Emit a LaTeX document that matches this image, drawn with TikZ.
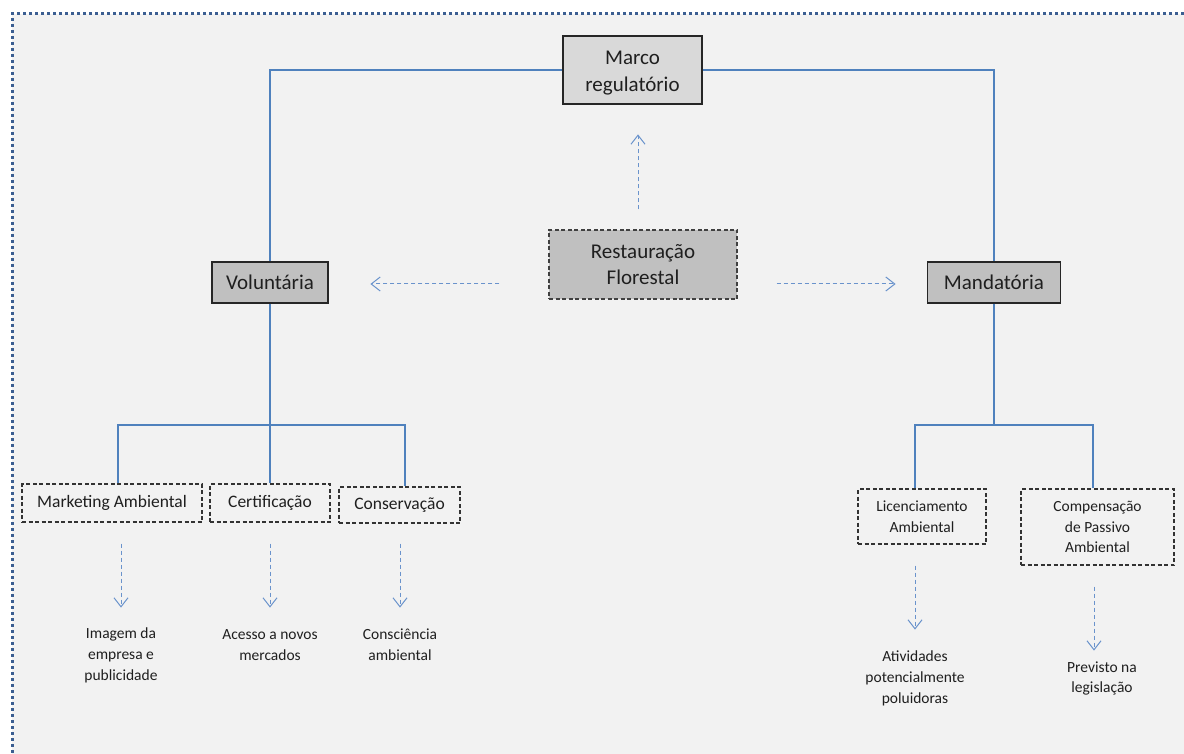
\documentclass[tikz,border=0pt]{standalone}
\usepackage{fontspec}
\setmainfont{Carlito}
\usetikzlibrary{arrows.meta,calc}
\definecolor{bg}{HTML}{F2F2F2}
\definecolor{frameblue}{HTML}{3B5E91}
\definecolor{lineblue}{HTML}{4F81BD}
\definecolor{arrblue}{HTML}{6A93CC}
\definecolor{txt}{HTML}{1F1F1F}
\definecolor{boxlight}{HTML}{D9D9D9}
\definecolor{boxdark}{HTML}{C0C0C0}
\tikzset{
  conn/.style={draw=lineblue,line width=1.2pt},
  darr/.style={draw=arrblue,line width=1pt,dash pattern=on 4pt off 3pt,
    -{Straight Barb[length=9pt,width=14pt,line width=1pt]}},
  topbox/.style={draw=black!85,line width=1.3pt,fill=boxdark,inner sep=0pt,align=center,
    text=txt,font=\fontsize{21}{26.5}\selectfont},
  midbox/.style={draw=black!80,line width=1.2pt,dash pattern=on 4pt off 2.5pt,inner sep=0pt,
    align=center,text=txt,font=\fontsize{17.5}{21}\selectfont},
  smallbox/.style={draw=black!80,line width=1.2pt,dash pattern=on 4pt off 2.5pt,inner sep=0pt,
    align=center,text=txt,font=\fontsize{15.5}{20.7}\selectfont},
  lbl/.style={inner sep=0pt,align=center,text=txt,font=\fontsize{15.5}{20.7}\selectfont}
}
\begin{document}
\begin{tikzpicture}[x=1pt,y=-1pt]
\useasboundingbox (0,0) rectangle (1184,754);
\fill[white] (0,0) rectangle (1184,754);
\fill[bg] (12,14) rectangle (1184,754);
\draw[frameblue,line width=3pt,dash pattern=on 3pt off 3pt] (1184,14) -- (12,14) -- (12,754);

% top-level nodes
\node[topbox,fill=boxlight,minimum width=139pt,minimum height=68pt] (marco) at (632.5,70) {\rule{0pt}{20pt}Marco\\regulatório};
\node[topbox,fill=boxdark,draw=black!75,dash pattern=on 4pt off 2.5pt,line width=1.2pt,
      minimum width=188pt,minimum height=69pt] (rest) at (643,264.5) {Restauração\\Florestal};
\node[topbox,minimum width=116pt,minimum height=41pt] (volu) at (270,282.5) {Voluntária};
\node[topbox,minimum width=133pt,minimum height=41pt] (mand) at (994,282.5) {Mandatória};

% second level
\node[midbox,minimum width=180pt,minimum height=38pt] (mkt) at (112,503) {Marketing Ambiental};
\node[midbox,minimum width=120pt,minimum height=38pt] (cert) at (270,503) {Certificação};
\node[midbox,minimum width=121pt,minimum height=36pt] (cons) at (399.5,505) {Conservação};
\node[smallbox,minimum width=128pt,minimum height=55pt] (lic) at (922,516.5) {Licenciamento\\Ambiental};
\node[smallbox,minimum width=153pt,minimum height=76pt] (comp) at (1097.5,527) {Compensação\\de Passivo\\Ambiental};

% bottom labels
\node[lbl] (im) at (121,655.5) {Imagem da\\empresa e\\publicidade};
\node[lbl] (acc) at (270,645) {Acesso a novos\\mercados};
\node[lbl] (cc) at (400,645) {Consciência\\ambiental};
\node[lbl] (ativ) at (915,678.5) {Atividades\\potencialmente\\poluidoras};
\node[lbl] (prev) at (1102,678.5) {Previsto na\\legislação};

% junction coordinates
\coordinate (jl) at (270,425);
\coordinate (jla) at (118,425);
\coordinate (jlc) at (405,425);
\coordinate (jr) at (994,425);
\coordinate (jra) at (915,425);
\coordinate (jrb) at (1093,425);

% solid connectors
\draw[conn] (marco.west) -| (volu.north);
\draw[conn] (marco.east) -| (mand.north);
\draw[conn] (volu.south) -- (jl) -- (jl |- cert.north);
\draw[conn] (jla |- mkt.north) -- (jla) -- (jlc) -- (jlc |- cons.north);
\draw[conn] (mand.south) -- (jr);
\draw[conn] (jra |- lic.north) -- (jra) -- (jrb) -- (jrb |- comp.north);

% dashed arrows
\draw[darr] ($(rest.north)+(-5,-20)$) -- ($(rest.north)+(-5,-95)$);
\draw[darr] ($(rest.west |- volu)+(-49,1.5)$) -- ($(rest.west |- volu)+(-178,1.5)$);
\draw[darr] ($(rest.east |- volu)+(39,1.5)$) -- ($(rest.east |- volu)+(158,1.5)$);
\draw[darr] ($(mkt.south -| im.north)+(0,21)$) -- ($(mkt.south -| im.north)+(0,85)$);
\draw[darr] ($(cert.south -| acc.north)+(0,21)$) -- ($(cert.south -| acc.north)+(0,85)$);
\draw[darr] ($(cons.south -| cc.north)+(0,20)$) -- ($(cons.south -| cc.north)+(0,84)$);
\draw[darr] ($(lic.south -| ativ.north)+(0,21)$) -- ($(lic.south -| ativ.north)+(0,85)$);
\draw[darr] ($(comp.south)+(-3.5,21)$) -- ($(comp.south)+(-3.5,85)$);
\end{tikzpicture}
\end{document}
